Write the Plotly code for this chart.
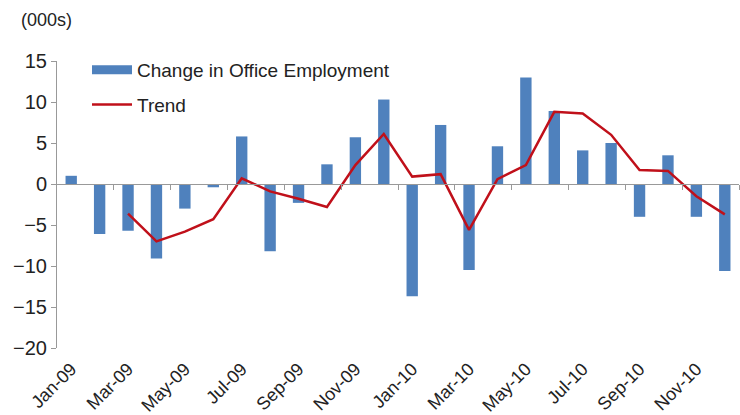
import plotly.graph_objects as go

months = ["Jan-09", "Feb-09", "Mar-09", "Apr-09", "May-09", "Jun-09", "Jul-09", "Aug-09",
          "Sep-09", "Oct-09", "Nov-09", "Dec-09", "Jan-10", "Feb-10", "Mar-10", "Apr-10",
          "May-10", "Jun-10", "Jul-10", "Aug-10", "Sep-10", "Oct-10", "Nov-10", "Dec-10"]
change = [1.0, -6.1, -5.7, -9.1, -3.0, -0.4, 5.8, -8.2, -2.3, 2.4, 5.7, 10.3,
          -13.7, 7.2, -10.5, 4.6, 13.0, 8.9, 4.1, 5.0, -4.0, 3.5, -4.0, -10.6]
trend = [None, None, -3.6, -7.0, -5.8, -4.3, 0.7, -0.9, -1.8, -2.8, 2.3, 6.1,
         0.9, 1.2, -5.6, 0.6, 2.3, 8.8, 8.6, 6.0, 1.7, 1.6, -1.5, -3.7]
label_months = months[::2]
y_ticks = [-20, -15, -10, -5, 0, 5, 10, 15]

n = len(months)
font_family = "Liberation Sans, Arial, sans-serif"
bar_color = "#4F81BD"
trend_color = "#C0101A"

fig = go.Figure()
fig.add_trace(go.Bar(x=months, y=change, name="Change in Office Employment",
                     marker=dict(color=bar_color, line=dict(width=0)),
                     showlegend=False))
# legend proxy giving the wide rectangular swatch
fig.add_trace(go.Scatter(x=[None], y=[None], name="Change in Office Employment",
                         mode="lines", line=dict(color=bar_color, width=9),
                         legendgroup="a"))
fig.add_trace(go.Scatter(x=months, y=trend, name="Trend", mode="lines",
                         line=dict(color=trend_color, width=2.5),
                         legendgroup="b"))
# helper trace for the axis drawn along zero
fig.add_trace(go.Scatter(x=[0], y=[0], xaxis="x2", mode="markers",
                         marker=dict(opacity=0), showlegend=False, hoverinfo="skip"))

boundaries = [i + 1.5 for i in range(0, n - 1, 2)]

fig.update_layout(
    width=740, height=415,
    margin=dict(l=57, r=1, t=61, b=67),
    paper_bgcolor="white", plot_bgcolor="white",
    font=dict(family=font_family, color="#222222"),
    bargap=0.6,
    showlegend=True,
    legend=dict(x=30 / 682, y=1.035, xanchor="left", yanchor="top",
                bgcolor="rgba(0,0,0,0)", font=dict(size=19, color="#222222"),
                itemwidth=40,
                traceorder="grouped", tracegroupgap=7),
    xaxis=dict(type="category", range=[-0.5, n - 0.5], tickvals=label_months,
               ticktext=label_months, tickangle=-45, ticks="", showline=False,
               showgrid=False, zeroline=False, ticklabelstandoff=6, automargin=False,
               tickfont=dict(size=18, color="#222222")),
    xaxis2=dict(overlaying="x", anchor="free", position=20 / 35, range=[-0.5, n - 0.5],
                tickmode="array", tickvals=boundaries, showticklabels=False,
                ticks="outside", ticklen=5, tickcolor="#999999", showline=True,
                linecolor="#999999", linewidth=1, showgrid=False, zeroline=False,
                automargin=False),
    yaxis=dict(range=[-20, 15], tickvals=y_ticks, ticks="outside", ticklen=5,
               tickcolor="#999999", showline=True, linecolor="#999999", linewidth=1,
               showgrid=False, zeroline=False, automargin=False,
               tickfont=dict(size=20, color="#222222")),
    annotations=[dict(text="(000s)", xref="paper", yref="paper", x=-38 / 682,
                      y=(348 - 20) / 287, xanchor="left", yanchor="middle",
                      showarrow=False, font=dict(size=18, color="#222222"))],
)

fig.write_html("out.html")
